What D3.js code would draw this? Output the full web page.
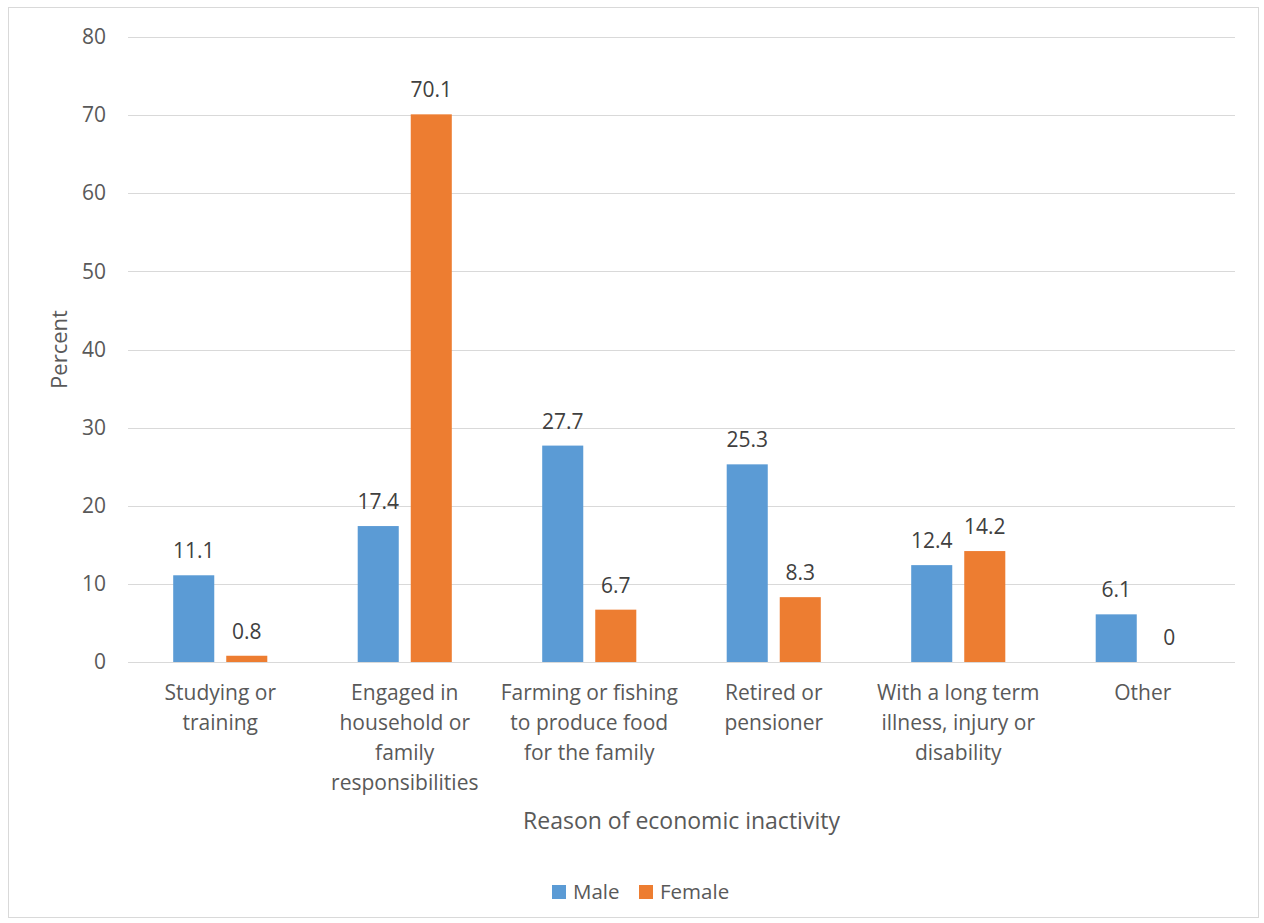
<!DOCTYPE html>
<html>
<head>
<meta charset="utf-8">
<script src="https://cdn.jsdelivr.net/npm/d3@7"></script>
<style>
  html, body { margin: 0; padding: 0; background: #fff; }
  svg { display: block; }
  text { font-family: "Open Sans", "Liberation Sans", sans-serif; fill: #595959; }
</style>
</head>
<body>
<svg id="chart" width="1264" height="923"></svg>
<script>
// Reasons for economic inactivity, percent by sex
const categories = [
  "Studying or\ntraining",
  "Engaged in\nhousehold or\nfamily\nresponsibilities",
  "Farming or fishing\nto produce food\nfor the family",
  "Retired or\npensioner",
  "With a long term\nillness, injury or\ndisability",
  "Other"
];
const seriesNames = ["Male", "Female"];
const maleValues = [11.1, 17.4, 27.7, 25.3, 12.4, 6.1];
const femaleValues = [0.8, 70.1, 6.7, 8.3, 14.2, 0];
const yTicks = [0, 10, 20, 30, 40, 50, 60, 70, 80];
const colors = { Male: "#5B9BD5", Female: "#ED7D31" };

const svg = d3.select("#chart");
const plot = { left: 128, right: 1235, top: 37, bottom: 662 };

// chart frame
svg.append("rect")
  .attr("x", 8.5).attr("y", 7.5)
  .attr("width", 1250).attr("height", 910)
  .attr("fill", "#fff").attr("stroke", "#d9d9d9").attr("stroke-width", 1);

const y = d3.scaleLinear().domain([0, 80]).range([plot.bottom, plot.top]);
const x0 = d3.scaleBand().domain(categories).range([plot.left, plot.right])
  .paddingInner(0.49).paddingOuter(0.245);
const x1 = d3.scaleBand().domain(seriesNames).range([0, x0.bandwidth()])
  .paddingInner(0.226).paddingOuter(0);

// gridlines
svg.append("g").selectAll("line").data(yTicks).join("line")
  .attr("x1", plot.left).attr("x2", plot.right)
  .attr("y1", d => Math.round(y(d)) + 0.5).attr("y2", d => Math.round(y(d)) + 0.5)
  .attr("stroke", "#d9d9d9").attr("stroke-width", 1.2);

// y axis labels
const yAxis = d3.axisLeft(y).tickValues(yTicks).tickSize(0).tickPadding(0);
const gy = svg.append("g").attr("transform", `translate(106,0)`).call(yAxis);
gy.select(".domain").remove();
gy.selectAll("text").style("font-size", "21px").attr("fill", "#595959")
  .style("font-family", "'Open Sans', sans-serif");

// y axis title
svg.append("text")
  .attr("transform", `translate(67,${(plot.top + plot.bottom) / 2}) rotate(-90)`)
  .attr("text-anchor", "middle")
  .style("font-size", "22px")
  .text("Percent");

// bars
const rows = categories.map((c, i) => ({
  cat: c,
  values: [
    { key: "Male", v: maleValues[i] },
    { key: "Female", v: femaleValues[i] }
  ]
}));

const groups = svg.append("g").selectAll("g").data(rows).join("g")
  .attr("transform", d => `translate(${x0(d.cat)},0)`);

groups.selectAll("rect").data(d => d.values).join("rect")
  .attr("x", d => x1(d.key))
  .attr("width", x1.bandwidth())
  .attr("y", d => y(d.v))
  .attr("height", d => y(0) - y(d.v))
  .attr("fill", d => colors[d.key]);

// value labels
groups.selectAll("text.val").data(d => d.values).join("text")
  .attr("class", "val")
  .attr("x", d => x1(d.key) + x1.bandwidth() / 2)
  .attr("y", d => y(d.v) - 17)
  .attr("text-anchor", "middle")
  .style("font-size", "21px")
  .style("fill", "#404040")
  .text(d => d.v);

// category labels
const catG = svg.append("g").selectAll("text").data(categories).join("text")
  .attr("text-anchor", "middle")
  .style("font-size", "21px")
  .attr("transform", d => `translate(${x0(d) + x0.bandwidth() / 2},0)`);
catG.selectAll("tspan").data(d => d.split("\n")).join("tspan")
  .attr("x", 0)
  .attr("y", (d, i) => 700 + i * 30)
  .text(d => d);

// x axis title
svg.append("text")
  .attr("x", (plot.left + plot.right) / 2)
  .attr("y", 829)
  .attr("text-anchor", "middle")
  .style("font-size", "23px")
  .text("Reason of economic inactivity");

// legend
const legend = svg.append("g");
const legendItems = [
  { key: "Male", x: 552 },
  { key: "Female", x: 639 }
];
legend.selectAll("rect").data(legendItems).join("rect")
  .attr("x", d => d.x).attr("y", 885)
  .attr("width", 14).attr("height", 14)
  .attr("fill", d => colors[d.key]);
legend.selectAll("text").data(legendItems).join("text")
  .attr("x", d => d.x + 21).attr("y", 899)
  .style("font-size", "20.5px")
  .text(d => d.key);
</script>
</body>
</html>
